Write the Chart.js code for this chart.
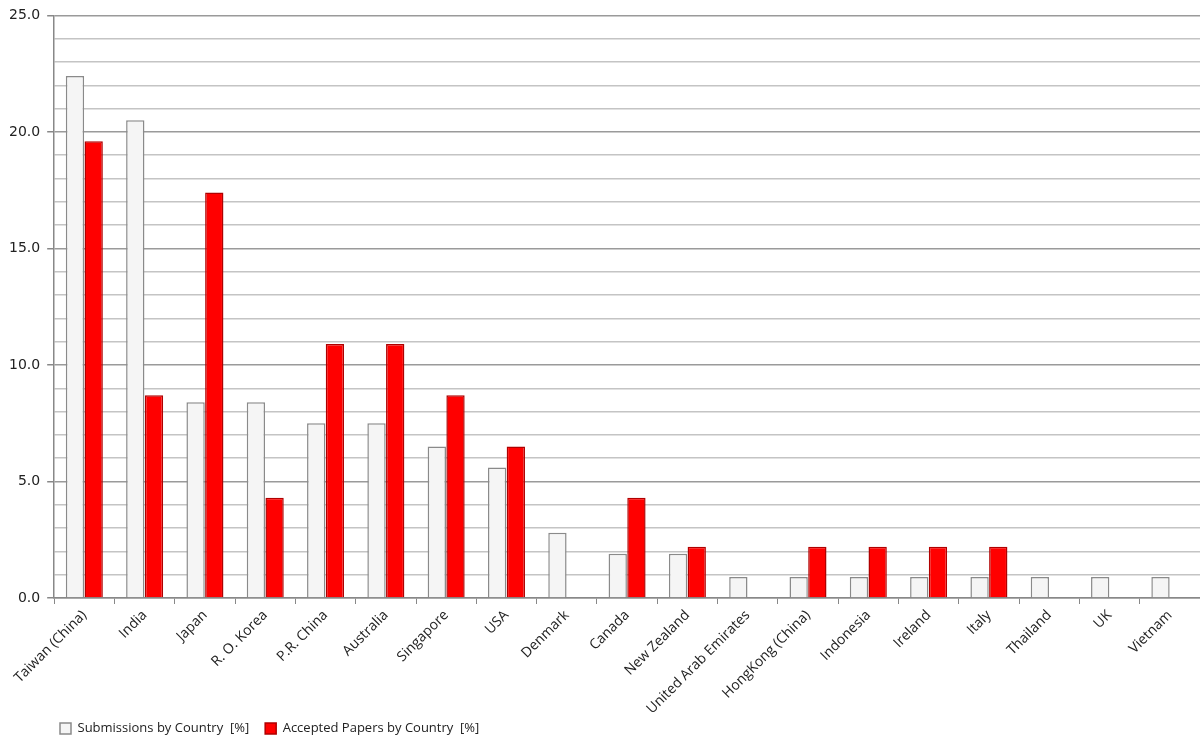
<!DOCTYPE html>
<html>
<head>
<meta charset="utf-8">
<script src="https://cdn.jsdelivr.net/npm/chart.js@4/dist/chart.umd.min.js"></script>
<style>
  html, body { margin: 0; padding: 0; background: #fff; }
  #wrap { width: 1200px; height: 747px; }
</style>
</head>
<body>
<div id="wrap"><canvas id="chart"></canvas></div>
<script>
// Countries along the x axis
const countries = ['Taiwan (China)', 'India', 'Japan', 'R. O. Korea', 'P.R. China', 'Australia',
  'Singapore', 'USA', 'Denmark', 'Canada', 'New Zealand', 'United Arab Emirates',
  'HongKong (China)', 'Indonesia', 'Ireland', 'Italy', 'Thailand', 'UK', 'Vietnam'];

// Share of submissions per country [%]
const submissions = [22.4, 20.5, 8.4, 8.4, 7.5, 7.5, 6.5, 5.6, 2.8, 1.9, 1.9, 0.9,
  0.9, 0.9, 0.9, 0.9, 0.9, 0.9, 0.9];

// Share of accepted papers per country [%]
const accepted = [19.6, 8.7, 17.4, 4.3, 10.9, 10.9, 8.7, 6.5, 0, 4.3, 2.2, 0,
  2.2, 2.2, 2.2, 2.2, 0, 0, 0];

const seriesNames = ['Submissions by Country  [%]', 'Accepted Papers by Country  [%]'];

const yMax = 25;
const labelEvery = 5;

// push the legend row right so it starts under the plot, like the original
const shiftLegend = {
  id: 'shiftLegend',
  afterLayout(chart) {
    if (chart.legend) chart.legend.left += 42;
  }
};

new Chart(document.getElementById('chart'), {
  type: 'bar',
  data: {
    labels: countries,
    datasets: [
      {
        label: seriesNames[0],
        data: submissions,
        backgroundColor: '#f5f5f5',
        borderColor: '#8a8a8a',
        borderWidth: 1.5,
        categoryPercentage: 0.62,
        barPercentage: 0.98
      },
      {
        label: seriesNames[1],
        data: accepted,
        backgroundColor: '#ff0000',
        borderColor: '#b00000',
        borderWidth: 1.5,
        categoryPercentage: 0.62,
        barPercentage: 0.98
      }
    ]
  },
  options: {
    responsive: true,
    maintainAspectRatio: false,
    animation: false,
    layout: { padding: { top: 0, left: 2, right: 0, bottom: 2 } },
    plugins: {
      tooltip: { enabled: false },
      legend: {
        position: 'bottom',
        align: 'start',
        labels: {
          boxWidth: 11,
          boxHeight: 11,
          padding: 16,
          color: '#222',
          font: { family: 'Open Sans', size: 13 }
        }
      }
    },
    scales: {
      x: {
        grid: {
          display: true,
          drawOnChartArea: false,
          offset: true,
          tickLength: 6,
          color: '#888'
        },
        border: { color: '#888', width: 1.5 },
        ticks: {
          autoSkip: false,
          maxRotation: 45,
          minRotation: 45,
          color: '#222',
          font: { family: 'Open Sans', size: 14 }
        },
        afterFit: function(scale) {
          // let the long rotated labels run into the legend row, as in the original
          scale.height = 108;
          scale._computeLabelArea = () => null;
        }
      },
      y: {
        min: 0,
        max: yMax,
        grid: {
          color: ctx => (ctx.tick && ctx.tick.value % labelEvery === 0) ? '#9a9a9a' : '#c4c4c4',
          lineWidth: 1.5,
          tickLength: 7,
          tickColor: ctx => (ctx.tick && ctx.tick.value % labelEvery === 0) ? '#888' : 'rgba(0,0,0,0)'
        },
        border: { color: '#888', width: 1.5 },
        ticks: {
          stepSize: 1,
          autoSkip: false,
          padding: 7,
          color: '#222',
          font: { family: 'DejaVu Sans', size: 14 },
          callback: v => (v % labelEvery === 0) ? v.toFixed(1) : ''
        }
      }
    }
  },
  plugins: [shiftLegend]
});
</script>
</body>
</html>
